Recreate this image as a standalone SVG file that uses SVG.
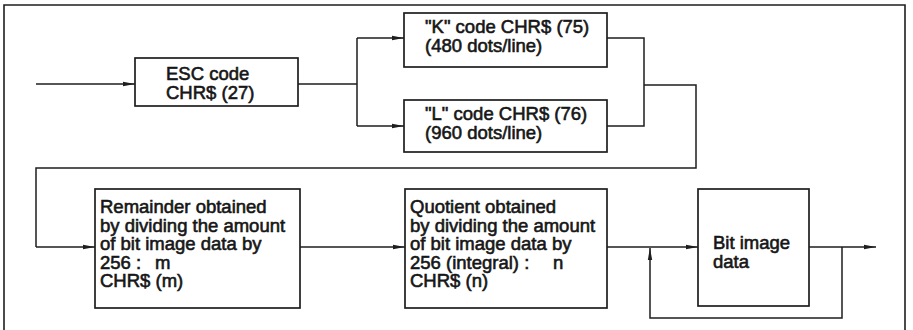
<svg xmlns="http://www.w3.org/2000/svg" width="913" height="330" viewBox="0 0 913 330">
  <style>
    .frame { fill: none; stroke: #1e1e1e; stroke-width: 1.6; }
    .box { fill: #ffffff; stroke: #1e1e1e; stroke-width: 1.7; }
    .wire { fill: none; stroke: #1e1e1e; stroke-width: 1.5; }
    .lbl { font-family: "Liberation Sans", Arial, sans-serif; font-size: 18.5px; fill: #161616; stroke: #161616; stroke-width: 0.6; }
  </style>
  <defs>
    <marker id="arrow" viewBox="0 0 12 6" refX="12" refY="3" markerWidth="12" markerHeight="6" markerUnits="userSpaceOnUse" orient="auto">
      <path d="M0,0.8 L12,3 L0,5.2 Z" fill="#1e1e1e"/>
    </marker>
  </defs>
  <rect width="913" height="330" fill="#ffffff"/>

  <!-- outer frame, open at the bottom -->
  <path class="frame" d="M4,330 V5 H905 V330"/>

  <g id="connectors">
    <path class="wire" d="M36,84 H135" marker-end="url(#arrow)"/>
    <path class="wire" d="M298,84 H357 M357,38 V126"/>
    <path class="wire" d="M357,38 H404" marker-end="url(#arrow)"/>
    <path class="wire" d="M357,126 H404" marker-end="url(#arrow)"/>
    <path class="wire" d="M607,38 H644 V126 H607 M644,85 H696 V168 H36 V247"/>
    <path class="wire" d="M36,247 H95" marker-end="url(#arrow)"/>
    <path class="wire" d="M300,247 H405" marker-end="url(#arrow)"/>
    <path class="wire" d="M607,247 H698" marker-end="url(#arrow)"/>
    <path class="wire" d="M809,247 H876" marker-end="url(#arrow)"/>
    <path class="wire" d="M842,247 V318 H650 V248" marker-end="url(#arrow)"/>
  </g>

  <g id="esc">
    <rect class="box" x="135" y="58" width="163" height="48"/>
    <text class="lbl" x="166" y="80">ESC code</text>
    <text class="lbl" x="166" y="99">CHR$ (27)</text>
  </g>

  <g id="k-code">
    <rect class="box" x="404" y="13" width="203" height="54"/>
    <text class="lbl" x="425" y="33">"K" code CHR$ (75)</text>
    <text class="lbl" x="425" y="52">(480 dots/line)</text>
  </g>

  <g id="l-code">
    <rect class="box" x="404" y="100" width="203" height="52"/>
    <text class="lbl" x="425" y="120">"L" code CHR$ (76)</text>
    <text class="lbl" x="425" y="139">(960 dots/line)</text>
  </g>

  <g id="remainder">
    <rect class="box" x="95" y="189" width="205" height="119"/>
    <text class="lbl" x="100" y="213">Remainder obtained</text>
    <text class="lbl" x="100" y="231.5">by dividing the amount</text>
    <text class="lbl" x="100" y="250">of bit image data by</text>
    <text class="lbl" x="100" y="268.5">256 :</text>
    <text class="lbl" x="155" y="268.5">m</text>
    <text class="lbl" x="100" y="287">CHR$ (m)</text>
  </g>

  <g id="quotient">
    <rect class="box" x="405" y="189" width="202" height="119"/>
    <text class="lbl" x="410" y="213">Quotient obtained</text>
    <text class="lbl" x="410" y="231.5">by dividing the amount</text>
    <text class="lbl" x="410" y="250">of bit image data by</text>
    <text class="lbl" x="410" y="268.5">256 (integral) :</text>
    <text class="lbl" x="553" y="268.5">n</text>
    <text class="lbl" x="410" y="287">CHR$ (n)</text>
  </g>

  <g id="bit-image">
    <rect class="box" x="698" y="189" width="111" height="117"/>
    <text class="lbl" x="713" y="249">Bit image</text>
    <text class="lbl" x="713" y="268">data</text>
  </g>
</svg>
